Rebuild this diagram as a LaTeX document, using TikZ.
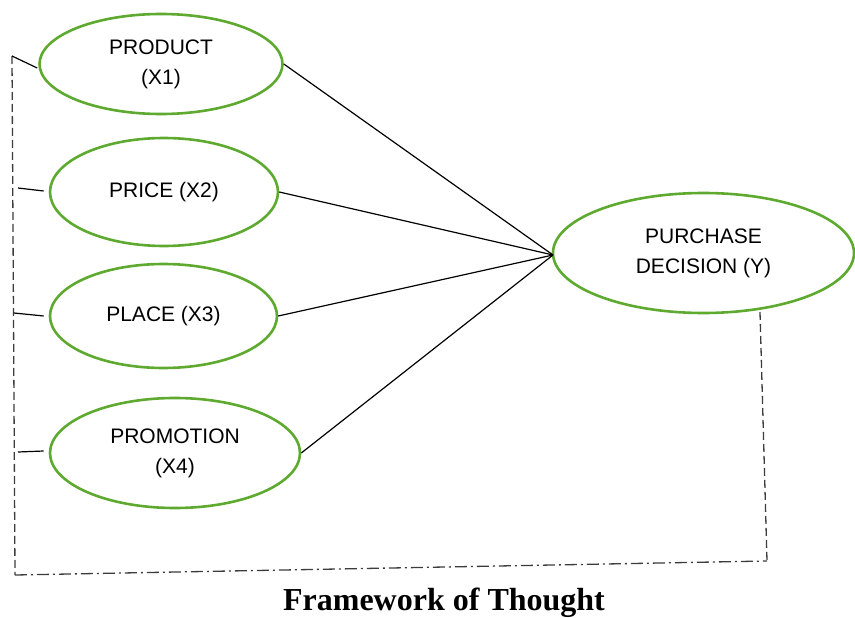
\documentclass[tikz,border=0pt]{standalone}
\usepackage{fontspec}
\setmainfont{Liberation Serif}
\newfontfamily\arialfont{Liberation Sans}
\usetikzlibrary{shapes.geometric}
\definecolor{ellgreen}{RGB}{94,170,48}
\definecolor{dashgray}{RGB}{60,60,60}
\tikzset{
  var/.style={ellipse, draw=ellgreen, line width=2.6pt, inner sep=0pt, align=center,
    font=\arialfont\fontsize{21}{30}\selectfont},
  conn/.style={draw=black, line width=1.2pt},
  dashln/.style={draw=dashgray, line width=1.3pt, dash pattern=on 8pt off 4pt},
  dashdot/.style={draw=dashgray, line width=1.3pt, dash pattern=on 12pt off 4pt on 2pt off 4pt},
}
\begin{document}
\begin{tikzpicture}[x=1pt,y=-1pt]
\useasboundingbox (0,0) rectangle (855,618);
\node[var, minimum width=243pt, minimum height=100pt] (prod) at (161,64) {\raisebox{-3pt}{PRODUCT}\\\raisebox{-3pt}{(X1)}};
\node[var, minimum width=228pt, minimum height=108pt] (price) at (164,192) {\raisebox{-2pt}{PRICE (X2)}};
\node[var, minimum width=227pt, minimum height=104pt] (place) at (163.5,316) {\raisebox{-3pt}{PLACE (X3)}};
\node[var, minimum width=250pt, minimum height=110pt] (promo) at (175,453) {\raisebox{-3pt}{PROMOTION}\\\raisebox{-3pt}{(X4)}};
\node[var, minimum width=301pt, minimum height=120pt] (pd) at (703.5,253) {\raisebox{-2pt}{PURCHASE}\\\raisebox{-2pt}{DECISION (Y)}};
\coordinate (hub) at (553,255);
\foreach \n in {prod,price,place,promo}{\draw[conn] (\n.east) -- (hub);}
% left feedback frame
\coordinate (tl) at (12,56);
\coordinate (bl) at (15,575);
\coordinate (br) at (767,561);
\coordinate (tr) at (760,312);
\coordinate (t2) at (18,188);
\coordinate (t3) at (14,313);
\coordinate (t4) at (18,452);
\draw[dashln] (tl) -- (bl);
\draw[dashdot] (bl) -- (br);
\draw[dashln] (tr) -- (br);
\draw[conn] (tl) -- ([xshift=-1pt,yshift=-4pt]prod.west);
\draw[conn] (t2) -- ([xshift=-5pt,yshift=1pt]price.west);
\draw[conn] (t3) -- ([xshift=-5pt]place.west);
\draw[conn] (t4) -- ([xshift=-5pt,yshift=2pt]promo.west);
\node[anchor=base, font=\bfseries\fontsize{32}{36}\selectfont] (title) at (444,610) {Framework of Thought};
\end{tikzpicture}
\end{document}
